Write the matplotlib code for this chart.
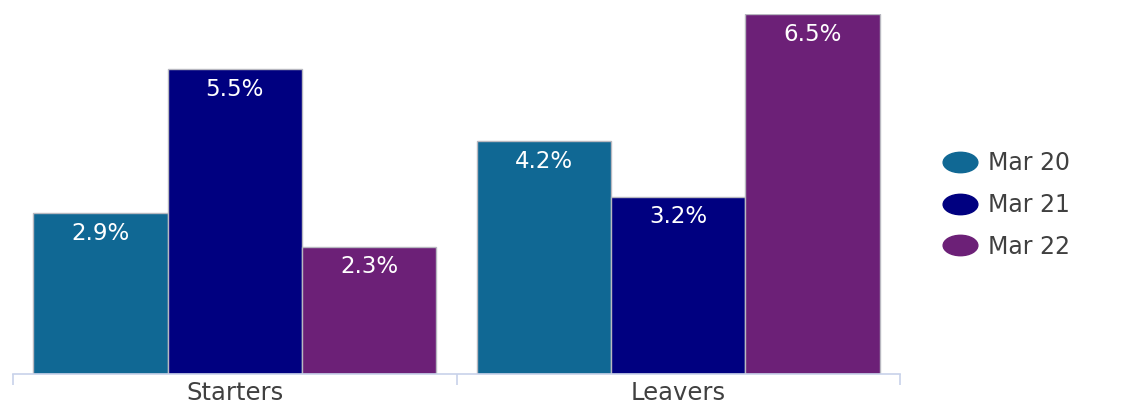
import matplotlib
matplotlib.use("Agg")
import matplotlib.pyplot as plt
from matplotlib.lines import Line2D
from matplotlib.path import Path
from matplotlib.transforms import Affine2D

# Chart data
categories = ["Starters", "Leavers"]
series_names = ["Mar 20", "Mar 21", "Mar 22"]
series_values = [
    [2.9, 4.2],   # Mar 20
    [5.5, 3.2],   # Mar 21
    [2.3, 6.5],   # Mar 22
]
colors = ["#106894", "#000080", "#6c2077"]

plt.rcParams["font.family"] = ["DejaVu Sans"]

fig = plt.figure(figsize=(11.22, 4.09), dpi=100)
ax = fig.add_axes([13 / 1122, 35 / 409, 887 / 1122, 360 / 409])

bar_w = 0.303
offsets = [-bar_w, 0.0, bar_w]
x = list(range(len(categories)))

for vals, off, col in zip(series_values, offsets, colors):
    xs = [xi + off for xi in x]
    bars = ax.bar(xs, vals, width=bar_w, color=col, edgecolor="#b8b8c0",
                  linewidth=1.0, zorder=2)
    for b, v in zip(bars, vals):
        ax.annotate(f"{v:.1f}%", xy=(b.get_x() + b.get_width() / 2, v),
                    xytext=(0, -14.5), textcoords="offset points",
                    ha="center", va="center", color="white", fontsize=16.5)

ax.set_xlim(-0.5, 1.5)
ax.set_ylim(0, 6.5)
ax.set_yticks([])
for s in ["top", "right", "left"]:
    ax.spines[s].set_visible(False)
ax.spines["bottom"].set_color("#c8d2ea")
ax.spines["bottom"].set_linewidth(1.2)

# boundary ticks between categories, labels centred under each group
ax.set_xticks([-0.5, 0.5, 1.5])
ax.set_xticklabels([])
ax.tick_params(axis="x", which="major", length=8, width=1.2, color="#c8d2ea")
ax.set_xticks(x, minor=True)
ax.set_xticklabels(categories, minor=True)
ax.tick_params(axis="x", which="minor", length=0, pad=5,
               labelsize=17.5, labelcolor="#404040")

# elliptical legend markers
circle = Path.unit_circle()
ellipse = circle.transformed(Affine2D().scale(1.7, 1.0))
handles = [Line2D([], [], linestyle="none", marker=ellipse, markersize=25,
                  markerfacecolor=c, markeredgecolor=c) for c in colors]
fig.legend(handles, series_names, loc="center left",
           bbox_to_anchor=(920 / 1122, 1 - 205 / 409), frameon=False,
           fontsize=17, labelcolor="#404040", labelspacing=0.75,
           handletextpad=0.4, handlelength=1.6)

fig.savefig("out.png", dpi=100, facecolor="white")
